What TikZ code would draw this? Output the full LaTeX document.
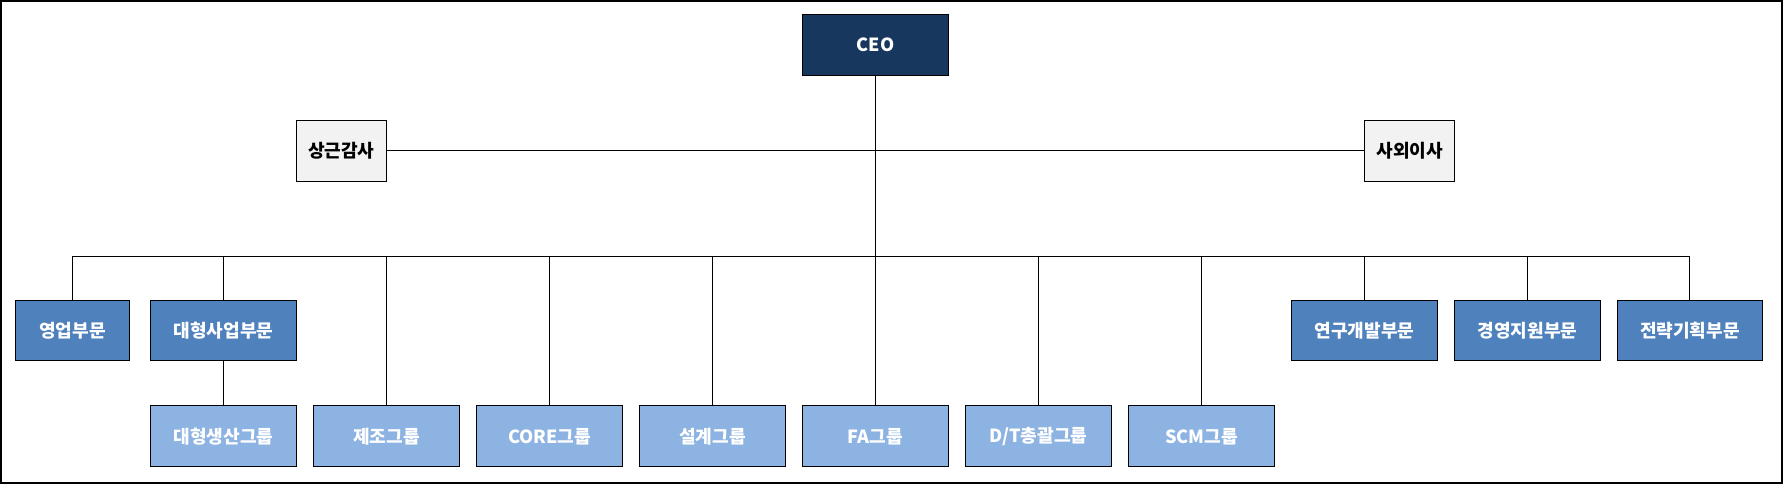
\documentclass[tikz,border=0pt]{standalone}
\usepackage{fontspec}
\setmainfont{Noto Sans CJK KR}
\definecolor{ceoblue}{HTML}{17375E}
\definecolor{divblue}{HTML}{4F81BD}
\definecolor{grpblue}{HTML}{8DB3E2}
\definecolor{advgray}{HTML}{F2F2F2}
\begin{document}
\begin{tikzpicture}[x=0.02cm,y=-0.02cm,
  box/.style={draw=black,line width=0.5pt,minimum height=1.06cm,inner sep=0pt,
    font=\fontsize{9}{10}\selectfont\bfseries},
  ceo/.style={box,fill=ceoblue,text=white,minimum width=2.54cm},
  adv/.style={box,fill=advgray,text=black,minimum width=1.58cm},
  div/.style={box,fill=divblue,text=white,minimum width=2.54cm},
  grp/.style={box,fill=grpblue,text=white,minimum width=2.54cm},
  link/.style={draw=black,line width=0.5pt}]
  \draw[line width=1pt] (5,7) rectangle (1562,428);
  \node[ceo] (ceo) at (769.5,45.5) {CEO};
  \node[adv] (audit) at (302.5,138) {상근감사};
  \node[adv] (outdir) at (1236.5,138) {사외이사};
  \node[div,minimum width=1.98cm] (sales) at (67.5,295) {영업부문};
  \node[div] (bigbiz) at (199.5,295) {대형사업부문};
  \node[div] (rnd) at (1197,295) {연구개발부문};
  \node[div] (mgmt) at (1339.5,295) {경영지원부문};
  \node[div] (plan) at (1481.5,295) {전략기획부문};
  \node[grp] (bigprod) at (199.5,387.5) {대형생산그룹};
  \node[grp] (mfg) at (342,387.5) {제조그룹};
  \node[grp] (core) at (484.5,387.5) {CORE그룹};
  \node[grp] (design) at (627,387.5) {설계그룹};
  \node[grp] (fa) at (769.5,387.5) {FA그룹};
  \node[grp] (dt) at (912,387.5) {D/T총괄그룹};
  \node[grp] (scm) at (1054.5,387.5) {SCM그룹};
  \coordinate (hub) at (769.5,230);
  \draw[link] (audit) -- (outdir);
  \draw[link] (ceo) -- (fa);
  \draw[link] (sales.north |- hub) -- (plan.north |- hub);
  \foreach \n in {sales,bigbiz,rnd,mgmt,plan,mfg,core,design,dt,scm}
    \draw[link] (\n.north |- hub) -- (\n.north);
  \draw[link] (bigbiz) -- (bigprod);
\end{tikzpicture}
\end{document}
